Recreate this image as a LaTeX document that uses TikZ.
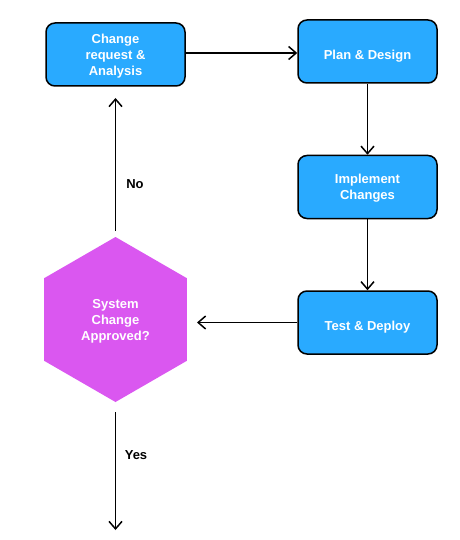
\documentclass[tikz,border=0pt]{standalone}
\usepackage{fontspec}
\setmainfont{Liberation Sans}
\usetikzlibrary{arrows.meta,shapes.geometric}
\definecolor{boxblue}{RGB}{41,170,255}
\definecolor{hexmag}{RGB}{218,87,240}
\tikzset{
  procbox/.style={draw=black, line width=1.5pt, fill=boxblue, rounded corners=9pt,
    minimum width=139pt, minimum height=63pt, align=center, text=white,
    font=\bfseries\fontsize{13}{16}\selectfont, inner sep=0pt, text depth=-1pt},
  oneline/.style={execute at begin node={\rule{0pt}{16pt}}, text depth=0pt},
  decision/.style={regular polygon, regular polygon sides=6, shape border rotate=30,
    fill=hexmag, draw=none,
    minimum size=165pt, align=center, text=white, inner sep=0pt,
    font=\bfseries\fontsize{13}{16}\selectfont, text depth=-3pt},
  conn/.style={line width=1.5pt, -{Straight Barb[length=7.5pt,width=13pt,line width=1.5pt]}},
  lbl/.style={font=\bfseries\fontsize{13}{16}\selectfont, text=black}
}
\begin{document}
\begin{tikzpicture}[x=1pt,y=-1pt]
\useasboundingbox (0,0) rectangle (459,540);
\node[procbox] (req) at (115.5,54.5) {Change\\request \&\\Analysis};
\node[procbox,oneline] (plan) at (367.5,51.5) {Plan \& Design};
\node[procbox] (impl) at (367.5,187) {Implement\\Changes};
\node[procbox,oneline] (test) at (367.5,322.5) {Test \& Deploy};
\node[decision] (dec) at (115.5,319.5) {System\\Change\\Approved?};
\coordinate (noStart) at (115.5,231);
\coordinate (noEnd) at (115.5,98);
\coordinate (yesStart) at (115.5,412);
\coordinate (yesEnd) at (115.5,530);
\coordinate (testEnd) at (197,322.5);
\draw[conn] (req.east |- 0,53) -- (plan.west |- 0,53);
\draw[conn] (plan.south) -- (impl.north);
\draw[conn] (impl.south) -- (test.north);
\draw[conn] (test.west) -- (testEnd);
\draw[conn] (noStart) -- (noEnd);
\draw[conn] (yesStart) -- (yesEnd);
\node[lbl] (no) at (135,184) {No};
\node[lbl] (yes) at (136,455) {Yes};
\end{tikzpicture}
\end{document}
